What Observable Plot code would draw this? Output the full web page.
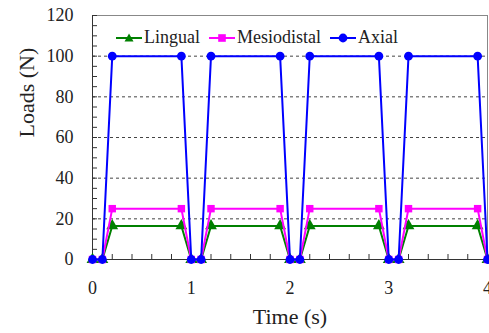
<!DOCTYPE html>
<html>
<head>
<meta charset="utf-8">
<script src="https://cdn.jsdelivr.net/npm/d3@7"></script>
<script src="https://cdn.jsdelivr.net/npm/@observablehq/plot@0.6"></script>
<style>
  body { margin: 0; background: #fff; }
  #wrap { position: relative; width: 489px; height: 333px; font-family: "Liberation Serif", "Times New Roman", Times, "DejaVu Serif", serif; }
  #wrap svg, #wrap svg text { font-family: "Liberation Serif", "Times New Roman", Times, "DejaVu Serif", serif !important; }
  #legend { position: absolute; left: 116px; top: 27px; display: flex; align-items: center; font-size: 18px; color: #222; white-space: nowrap; }
  #legend .item { display: flex; align-items: center; margin-right: 9px; }
  #legend svg { margin-right: 2px; }
</style>
</head>
<body>
<div id="wrap"><div id="legend"></div></div>
<script>
const times = [0, 0.1, 0.2, 0.9, 1.0, 1.1, 1.2, 1.9, 2.0, 2.1, 2.2, 2.9, 3.0, 3.1, 3.2, 3.9, 4.0];
const lingual =     [0, 0, 16.5, 16.5, 0, 0, 16.5, 16.5, 0, 0, 16.5, 16.5, 0, 0, 16.5, 16.5, 0];
const mesiodistal = [0, 0, 25, 25, 0, 0, 25, 25, 0, 0, 25, 25, 0, 0, 25, 25, 0];
const axial =       [0, 0, 100, 100, 0, 0, 100, 100, 0, 0, 100, 100, 0, 0, 100, 100, 0];
const seriesNames = ["Lingual", "Mesiodistal", "Axial"];
const seriesColors = ["#008000", "#ff00ff", "#0000ff"];
const seriesSymbols = ["triangle", "square", "circle"];
const xTicks = [0, 1, 2, 3, 4];
const yTicks = [0, 20, 40, 60, 80, 100, 120];
const gridLevels = [20, 40, 60, 80, 100];
const xLabel = "Time (s)";
const yLabel = "Loads (N)";

const seriesValues = [lingual, mesiodistal, axial];
const data = seriesNames.flatMap((name, i) => times.map((t, j) => ({series: name, t, v: seriesValues[i][j]})));

const marks = [
  Plot.ruleY(gridLevels, {stroke: "#444", strokeDasharray: "3,3", strokeWidth: 1}),
  Plot.frame({stroke: "#888"}),
  Plot.axisY(d3.range(0, 120.01, 5), {tickSize: -5, text: null, stroke: "#333", label: null}),
  Plot.axisY(yTicks, {tickSize: 0, tickPadding: 19, fontSize: 18, fill: "#222", label: null}),
  Plot.axisX(d3.range(0, 4.01, 0.2), {tickSize: -5, text: null, stroke: "#333", label: null}),
  Plot.axisX(xTicks, {tickSize: 0, tickPadding: 22, fontSize: 18, fill: "#222", label: null}),
  Plot.ruleY([0], {stroke: "#333"}),
  Plot.ruleX([0], {stroke: "#333"}),
  Plot.text([xLabel], {frameAnchor: "bottom", dy: 64, fontSize: 22, fill: "#222", text: d => d}),
  Plot.text([yLabel], {frameAnchor: "left", dx: -66, rotate: -90, fontSize: 22, fill: "#222", text: d => d})
];
seriesNames.forEach((name, i) => {
  const d = data.filter(r => r.series === name);
  marks.push(Plot.line(d, {x: "t", y: "v", stroke: seriesColors[i], strokeWidth: 2}));
  marks.push(Plot.dot(d, {x: "t", y: "v", fill: seriesColors[i], stroke: "none", symbol: seriesSymbols[i], r: seriesSymbols[i] === "square" ? 4.2 : 4.4}));
});

const chart = Plot.plot({
  width: 489, height: 333,
  marginLeft: 92, marginRight: 2, marginTop: 15, marginBottom: 74,
  style: {fontSize: "18px", background: "#fff", overflow: "visible"},
  x: {domain: [0, 4], axis: null},
  y: {domain: [0, 120], axis: null},
  marks
});
chart.setAttribute("font-family", "Liberation Serif, DejaVu Serif, serif");
document.getElementById("wrap").prepend(chart);

const legend = document.getElementById("legend");
seriesNames.forEach((name, i) => {
  const item = document.createElement("div");
  item.className = "item";
  const shape = seriesSymbols[i] === "circle" ? `<circle cx="13" cy="7" r="4.4" fill="${seriesColors[i]}"/>`
    : seriesSymbols[i] === "square" ? `<rect x="9.2" y="3.2" width="7.6" height="7.6" fill="${seriesColors[i]}"/>`
    : `<path d="M13,2.5 L17.5,10.5 L8.5,10.5 Z" fill="${seriesColors[i]}"/>`;
  item.innerHTML = `<svg width="26" height="14"><line x1="0" y1="7" x2="26" y2="7" stroke="${seriesColors[i]}" stroke-width="2"/>${shape}</svg><span>${name}</span>`;
  legend.appendChild(item);
});
</script>
</body>
</html>
